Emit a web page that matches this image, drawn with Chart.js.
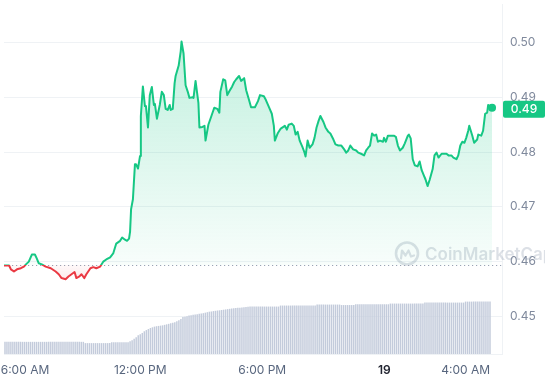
<!DOCTYPE html>
<html><head><meta charset="utf-8">
<script src="https://cdn.jsdelivr.net/npm/chart.js@4/dist/chart.umd.min.js"></script>
<style>html,body{margin:0;padding:0;background:#fff;}#wrap{width:545px;height:380px;}</style>
</head><body><div id="wrap"><canvas id="c" width="545" height="380"></canvas></div>
<script>
// time of each price point, in hours since 00:00 on the 18th
const times = [
5.30,5.55,5.64,5.79,5.94,6.13,6.28,6.38,6.52,6.67,
6.82,6.91,7.01,7.16,7.35,7.60,7.84,7.99,8.13,8.33,
8.47,8.62,8.77,8.86,9.01,9.11,9.25,9.35,9.55,9.69,
9.84,10.03,10.18,10.33,10.52,10.67,10.82,11.01,11.11,11.25,
11.35,11.45,11.50,11.55,11.64,11.74,11.79,11.89,11.99,12.03,
12.13,12.23,12.28,12.38,12.47,12.57,12.67,12.72,12.82,12.96,
13.06,13.16,13.25,13.35,13.45,13.50,13.60,13.69,13.74,13.89,
13.99,14.03,14.13,14.23,14.33,14.42,14.57,14.62,14.72,14.86,
14.91,15.06,15.16,15.21,15.35,15.50,15.64,15.79,15.89,15.94,
16.08,16.18,16.28,16.38,16.52,16.62,16.72,16.86,16.96,17.11,
17.21,17.35,17.45,17.64,17.79,17.89,18.08,18.18,18.33,18.47,
18.57,18.62,18.77,18.91,19.11,19.21,19.30,19.45,19.55,19.64,
19.74,19.84,19.99,20.08,20.13,20.23,20.33,20.47,20.57,20.67,
20.77,20.86,21.01,21.11,21.25,21.35,21.50,21.60,21.74,21.89,
22.03,22.13,22.23,22.33,22.47,22.62,22.72,22.86,23.01,23.11,
23.21,23.30,23.40,23.50,23.60,23.69,23.79,23.94,23.99,24.08,
24.18,24.28,24.47,24.57,24.67,24.77,24.91,25.01,25.16,25.21,
25.30,25.40,25.50,25.64,25.74,25.84,25.94,26.03,26.13,26.23,
26.38,26.47,26.57,26.67,26.82,26.91,27.06,27.16,27.30,27.40,
27.55,27.64,27.74,27.84,27.94,28.03,28.13,28.18,28.33,28.42,
28.57,28.62,28.77,28.86,28.96,29.06,29.11,29.21,29.30];

const prices = [
0.4593,0.4593,0.4586,0.4582,0.4586,0.4588,0.4591,0.4595,0.4600,0.4613,
0.4613,0.4606,0.4597,0.4595,0.4591,0.4588,0.4582,0.4577,0.4570,0.4568,
0.4573,0.4577,0.4581,0.4570,0.4573,0.4577,0.4570,0.4577,0.4588,0.4590,
0.4588,0.4591,0.4600,0.4604,0.4608,0.4615,0.4633,0.4638,0.4644,0.4640,
0.4638,0.4642,0.4655,0.4696,0.4714,0.4778,0.4778,0.4770,0.4793,0.4866,
0.4920,0.4884,0.4884,0.4845,0.4904,0.4919,0.4886,0.4888,0.4861,0.4886,
0.4910,0.4904,0.4879,0.4877,0.4886,0.4877,0.4879,0.4926,0.4939,0.4958,
0.4984,0.5002,0.4980,0.4922,0.4911,0.4899,0.4900,0.4899,0.4930,0.4890,
0.4845,0.4846,0.4848,0.4821,0.4850,0.4866,0.4881,0.4879,0.4872,0.4910,
0.4933,0.4931,0.4904,0.4911,0.4920,0.4928,0.4933,0.4939,0.4930,0.4935,
0.4913,0.4895,0.4882,0.4882,0.4893,0.4904,0.4902,0.4895,0.4882,0.4870,
0.4848,0.4821,0.4835,0.4843,0.4848,0.4841,0.4850,0.4852,0.4848,0.4832,
0.4837,0.4821,0.4808,0.4799,0.4792,0.4821,0.4808,0.4814,0.4826,0.4845,
0.4857,0.4866,0.4855,0.4845,0.4837,0.4834,0.4823,0.4814,0.4812,0.4812,
0.4805,0.4799,0.4803,0.4812,0.4805,0.4803,0.4799,0.4797,0.4794,0.4803,
0.4808,0.4812,0.4834,0.4830,0.4832,0.4819,0.4821,0.4819,0.4826,0.4819,
0.4830,0.4830,0.4830,0.4828,0.4812,0.4803,0.4808,0.4816,0.4830,0.4832,
0.4825,0.4787,0.4776,0.4774,0.4783,0.4767,0.4758,0.4750,0.4738,0.4749,
0.4769,0.4794,0.4799,0.4790,0.4797,0.4797,0.4797,0.4794,0.4794,0.4790,
0.4787,0.4794,0.4812,0.4819,0.4817,0.4826,0.4839,0.4848,0.4830,0.4817,
0.4823,0.4832,0.4830,0.4839,0.4870,0.4872,0.4886,0.4882,0.4881];

const basePrice = 0.4594;

// volume bars (relative units), one every 6 minutes from volStart
const volStart = 5.30, volStep = 0.1;
const volume = [
12.3,12.3,12.3,12.3,12.3,12.3,12.3,12.3,12.3,12.3,
12.3,12.3,12.3,12.3,12.3,12.3,12.3,12.3,12.3,12.3,
12.3,12.3,12.3,12.3,12.3,12.3,12.3,12.3,12.3,12.3,
12.3,12.3,12.3,12.3,12.3,12.3,12.3,12.3,12.3,12.3,
11,11,11,11,11,11,11,11,11,11,11,11,11,
12,12,12,12,12,12,12,12,12,
13,14,15.5,17,19,20,21.3,23,24.2,25.3,26.3,27,27.7,28.1,28.4,28.7,29,29.5,30,30.5,
31,31.5,32,33,34.2,35.5,37.3,37.8,38.3,39,39.3,39.6,40,40.2,40.6,41,41.3,41.8,42.3,42.8,
43,43.4,43.7,44,44.2,44.5,44.8,45.1,45.4,45.7,46,46.3,46.5,46.7,46.9,47.1,47.3,47.5,47.7,
48,48,48,48,48,48,48,48,48,48,48,48,48,48,48,
49,49,49,49,49,49,49,49,49,49,49,49,49,49,49,49,49,49,
50,50,50,50,50,50,50,50,50,50,50,50,
49.5,49.5,49.5,49.5,49.5,49.5,49.5,
50.3,50.3,50.3,50.3,50.3,50.3,50.3,50.3,50.3,50.3,50.3,50.3,50.3,50.3,50.3,50.3,50.3,
51,51,51,51,51,51,51,51,51,51,51,51,51,51,51,51,51,
52,52,52,52,52,52,52,52,52,52,52,52,52,52,52,52,52,52,52,52,
53,53,53,53,53,53,53,53,53,53,53,53,53];
const volAxisMax = 354;

const tickHours = [6, 12, 18, 24, 28];
const tickLabels = ['\u00a0\u00a0\u00a0\u00a06:00 AM', '12:00 PM', '6:00 PM', '19', '4:00 AM'];
const yTicks = [0.45, 0.46, 0.47, 0.48, 0.49, 0.50];
const xMin = 5.30, xMax = 29.79, yMin = 0.44314, yMax = 0.50704;

const GREEN = '#16c784', RED = '#ea3943';

function splitGradient(chart, topCols, botCols) {
  const {ctx, chartArea, scales} = chart;
  if (!chartArea) return null;
  const yb = scales.y.getPixelForValue(basePrice);
  const f = Math.min(1, Math.max(0, (yb - chartArea.top) / (chartArea.bottom - chartArea.top)));
  const g = ctx.createLinearGradient(0, chartArea.top, 0, chartArea.bottom);
  g.addColorStop(0, topCols[0]);
  g.addColorStop(f, topCols[1]);
  g.addColorStop(f, botCols[0]);
  g.addColorStop(Math.min(1, f + 0.05), botCols[1]);
  g.addColorStop(1, botCols[1]);
  return g;
}

const decor = {
  id: 'decor',
  beforeDatasetsDraw(chart) {
    const {ctx, chartArea, scales} = chart;
    // watermark
    ctx.save();
    ctx.strokeStyle = 'rgba(150,160,180,0.33)';
    ctx.fillStyle = 'rgba(150,160,180,0.33)';
    ctx.lineWidth = 2.6;
    const cx = 407, cy = 253.5;
    ctx.beginPath(); ctx.arc(cx, cy, 11, 0, Math.PI * 2); ctx.stroke();
    ctx.lineWidth = 2.2; ctx.lineJoin = 'round'; ctx.lineCap = 'round';
    ctx.beginPath();
    ctx.moveTo(cx - 6, cy + 5);
    ctx.lineTo(cx - 5, cy - 3);
    ctx.lineTo(cx - 1.5, cy + 2);
    ctx.lineTo(cx + 1.5, cy - 3);
    ctx.lineTo(cx + 4, cy + 3);
    ctx.lineTo(cx + 7, cy + 2);
    ctx.stroke();
    ctx.font = '600 17px Inter';
    ctx.textBaseline = 'alphabetic';
    ctx.fillText('CoinMarketCap', 425, 260);
    ctx.restore();
    // dotted opening-price line
    const yb = scales.y.getPixelForValue(basePrice);
    ctx.save();
    ctx.strokeStyle = '#9aa4b5';
    ctx.lineWidth = 1.2;
    ctx.setLineDash([1.2, 2.8]);
    ctx.beginPath();
    ctx.moveTo(chartArea.left, Math.round(yb) + 0.5);
    ctx.lineTo(chartArea.right, Math.round(yb) + 0.5);
    ctx.stroke();
    ctx.restore();
  },
  afterDraw(chart) {
    const {ctx, chartArea, scales} = chart;
    const last = prices[prices.length - 1];
    const y = scales.y.getPixelForValue(last);
    ctx.save();
    ctx.fillStyle = GREEN;
    const bx = chartArea.right + 1, bw = 545 - bx, bh = 17, by = y - 7;
    ctx.beginPath();
    ctx.roundRect(bx, by, bw, bh, 2);
    ctx.fill();
    ctx.fillStyle = '#ffffff';
    ctx.font = '500 12px Inter';
    ctx.textAlign = 'center';
    ctx.textBaseline = 'middle';
    ctx.fillText(last.toFixed(2), bx + bw / 2, by + bh / 2 + 0.5);
    ctx.restore();
  }
};

new Chart(document.getElementById('c'), {
  data: {
    datasets: [
      {
        type: 'line',
        data: times.map((t, i) => ({x: t, y: prices[i]})),
        yAxisID: 'y',
        borderWidth: 2,
        tension: 0,
        borderJoinStyle: 'round',
        borderColor: (c) => splitGradient(c.chart, [GREEN, GREEN], [RED, RED]) || GREEN,
        backgroundColor: (c) => splitGradient(c.chart,
          ['rgba(22,199,132,0.30)', 'rgba(22,199,132,0.03)'],
          ['rgba(234,57,67,0.03)', 'rgba(234,57,67,0.12)']) || 'rgba(22,199,132,0.1)',
        fill: {target: {value: basePrice}},
        pointRadius: (c) => c.dataIndex === prices.length - 1 ? 4 : 0,
        pointBackgroundColor: GREEN,
        pointBorderColor: GREEN,
        pointBorderWidth: 0,
        order: 0
      },
      {
        type: 'bar',
        data: volume.map((v, i) => ({x: volStart + i * volStep, y: v})),
        yAxisID: 'yv',
        backgroundColor: '#c3cbdb',
        barPercentage: 0.72,
        categoryPercentage: 1,
        order: 1
      }
    ]
  },
  options: {
    responsive: false,
    animation: false,
    devicePixelRatio: 1,
    layout: {padding: 0},
    plugins: {legend: {display: false}, tooltip: {enabled: false}},
    scales: {
      x: {
        type: 'linear', min: xMin, max: xMax, offset: false,
        grid: {display: false, drawTicks: false, offset: false},
        border: {display: true, color: '#eff2f5'},
        afterBuildTicks: (s) => { s.ticks = tickHours.map(v => ({value: v})); },
        afterFit: (s) => { s.paddingLeft = 0; s.paddingRight = 0; s.height = 26; },
        ticks: {
          autoSkip: false, maxRotation: 0, padding: 9,
          color: (c) => (c.tick && c.tick.value === 24) ? '#222531' : '#58667e',
          font: (c) => ({family: 'Inter', size: 12, weight: (c.tick && c.tick.value === 24) ? '600' : '400'}),
          callback: (v) => tickLabels[tickHours.indexOf(v)]
        }
      },
      y: {
        position: 'right', min: yMin, max: yMax,
        afterBuildTicks: (s) => { s.ticks = yTicks.map(v => ({value: v})); },
        afterFit: (s) => { s.width = 43; s.paddingTop = 0; s.paddingBottom = 0; },
        grid: {color: '#eff2f5', drawTicks: false},
        border: {display: true, color: '#eff2f5'},
        ticks: {padding: 8, color: '#808a9d', font: {family: 'Inter', size: 12}, callback: (v) => v.toFixed(2)}
      },
      yv: {display: false, min: 0, max: volAxisMax}
    }
  },
  plugins: [decor]
});
</script></body></html>
